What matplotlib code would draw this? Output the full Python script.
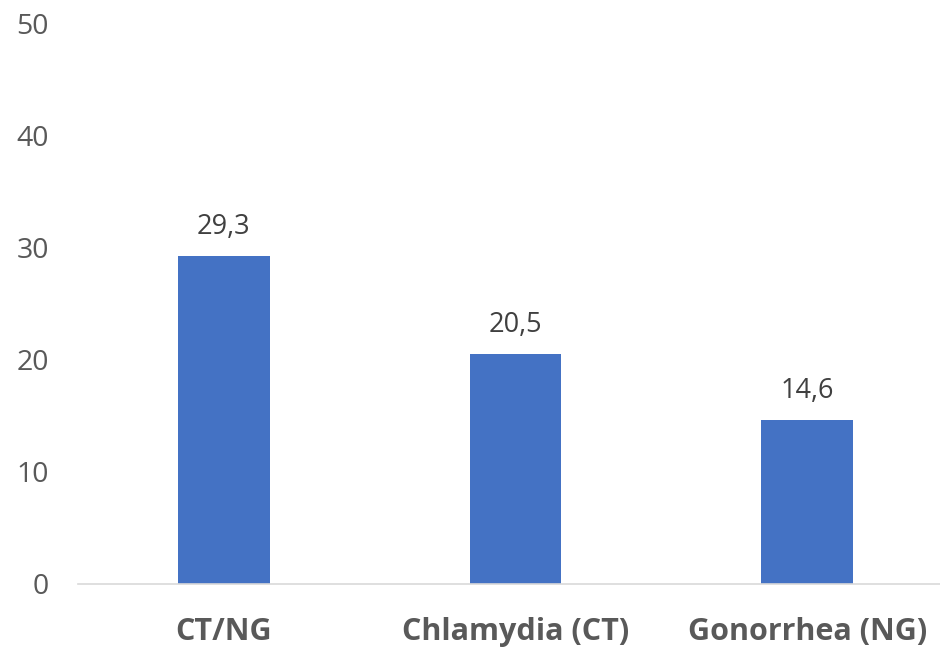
import matplotlib.pyplot as plt

categories = ['CT/NG', 'Chlamydia (CT)', 'Gonorrhea (NG)']
values = [29.3, 20.5, 14.6]
value_labels = ['29,3', '20,5', '14,6']
y_ticks = [0, 10, 20, 30, 40, 50]

plt.rcParams['font.family'] = ['Open Sans', 'DejaVu Sans']

fig = plt.figure(figsize=(9.4, 6.5), dpi=100)
ax = fig.add_axes([78 / 940, 66 / 650, 875 / 940, 560 / 650])

x = list(range(len(categories)))
ax.bar(x, values, width=0.315, color='#4472C4', zorder=2)

for xi, v, lab in zip(x, values, value_labels):
    ax.annotate(lab, (xi, v), xytext=(0, 11), textcoords='offset points',
                ha='center', va='bottom', fontsize=19.5, color='#404040')

ax.set_xlim(-0.5, 2.5)
ax.set_ylim(0, 50)
ax.set_yticks(y_ticks)
ax.set_yticklabels([str(t) for t in y_ticks], fontsize=20.5, color='#595959')
ax.set_xticks(x)
ax.set_xticklabels(categories, fontsize=22, fontweight='bold', color='#595959')

for side in ['top', 'right', 'left']:
    ax.spines[side].set_visible(False)
ax.spines['bottom'].set_color('#D9D9D9')
ax.spines['bottom'].set_linewidth(1.2)
ax.tick_params(axis='both', length=0)
ax.tick_params(axis='x', pad=24)
ax.tick_params(axis='y', pad=21)

fig.savefig('out.png', dpi=100)
